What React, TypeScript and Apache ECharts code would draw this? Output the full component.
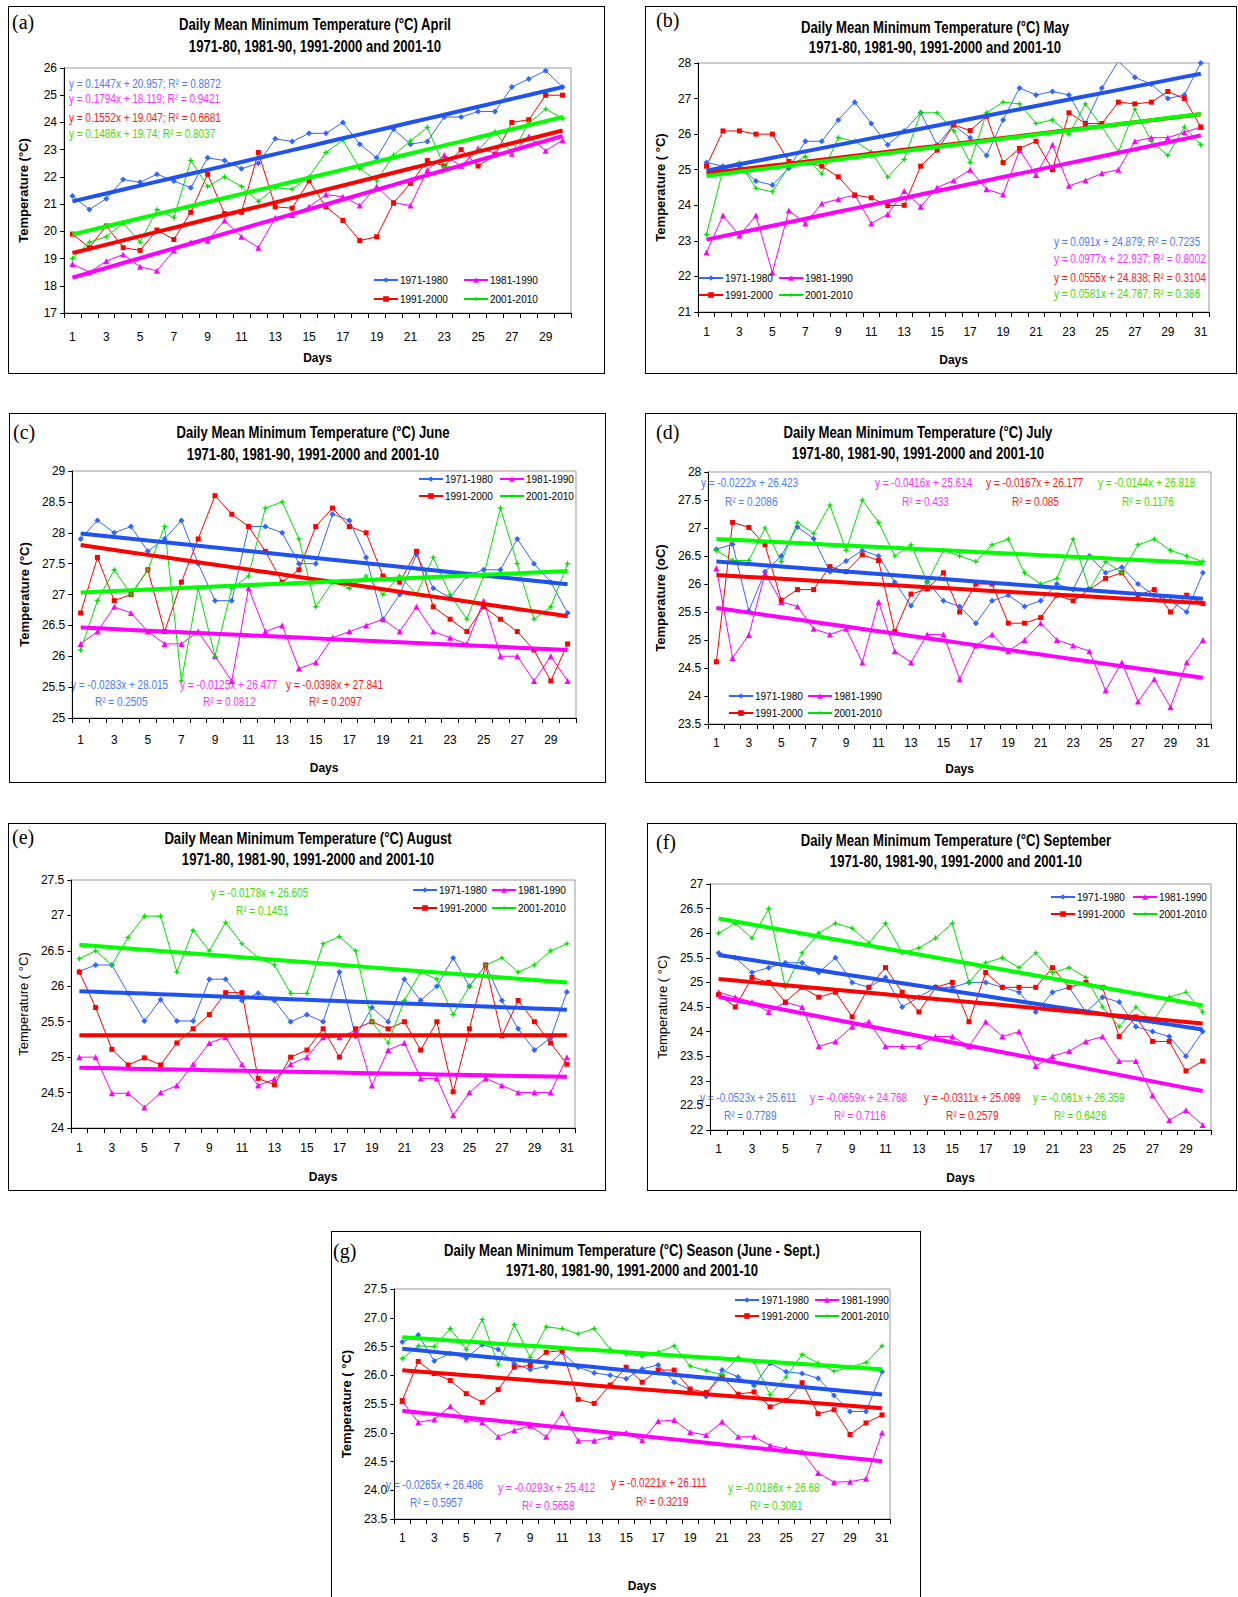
import React, { useEffect, useRef } from 'react';
import * as echarts from 'echarts';

// ---------- DATA ----------
const SERIES_NAMES = ['1971-1980', '1981-1990', '1991-2000', '2001-2010'];
const TITLE_LINE2 = '1971-80, 1981-90, 1991-2000 and 2001-10';

// (a) April
const aprB = [21.3, 20.8, 21.2, 21.9, 21.8, 22.1, 21.85, 21.6, 22.7, 22.6, 22.3, 22.5, 23.4, 23.3, 23.6, 23.6, 24.0, 23.2, 22.7, 23.75, 23.2, 23.3, 24.2, 24.2, 24.4, 24.4, 25.3, 25.6, 25.9, 25.3];
const aprM = [18.8, 18.5, 18.9, 19.15, 18.7, 18.55, 19.3, 19.6, 19.65, 20.4, 19.8, 19.4, 20.5, 20.6, 20.9, 21.35, 21.27, 20.95, 21.65, 21.05, 20.95, 22.25, 22.8, 22.4, 23.05, 22.88, 22.85, 23.48, 22.96, 23.35];
const aprR = [19.9, 19.4, 20.2, 19.4, 19.3, 20.05, 19.7, 20.7, 22.1, 20.65, 20.7, 22.9, 20.9, 20.85, 21.85, 20.9, 20.4, 19.66, 19.8, 21.05, 21.76, 22.6, 22.4, 23.0, 22.4, 22.8, 24.0, 24.1, 25.0, 25.0];
const aprG = [19.0, 19.6, 19.8, 20.3, 19.6, 20.8, 20.5, 22.6, 21.65, 22.0, 21.65, 21.1, 21.6, 21.55, 22.0, 22.9, 23.35, 22.31, 21.86, 22.8, 23.32, 23.82, 22.37, 22.37, 22.96, 23.66, 22.88, 23.97, 24.49, 24.15];
const aprSlope = [0.1447, 0.1794, 0.1552, 0.1486];
const aprIntercept = [20.957, 18.119, 19.047, 19.74];
const aprEq = ['y = 0.1447x + 20.957; R² = 0.8872', 'y = 0.1794x + 18.119; R² = 0.9421', 'y = 0.1552x + 19.047; R² = 0.6681', 'y = 0.1486x + 19.74; R² = 0.8037'];
const aprEqColor = [0, 1, 2, 3];

// (b) May
const mayB = [25.2, 25.1, 25.1, 24.68, 24.57, 25.04, 25.8, 25.8, 26.4, 26.9, 26.3, 25.7, 26.09, 26.6, 25.7, 26.25, 25.9, 25.4, 26.4, 27.3, 27.1, 27.2, 27.1, 26.3, 27.3, 28.05, 27.6, 27.4, 27.0, 27.1, 28.0];
const mayM = [22.67, 23.71, 23.15, 23.71, 22.11, 23.85, 23.49, 24.05, 24.17, 24.29, 23.49, 23.75, 24.4, 23.96, 24.5, 24.7, 25.0, 24.45, 24.3, 25.55, 24.85, 25.7, 24.55, 24.7, 24.9, 25.0, 25.8, 25.9, 25.9, 26.05, 26.2];
const mayR = [25.1, 26.09, 26.09, 26.0, 26.0, 25.23, 25.2, 25.1, 24.8, 24.29, 24.21, 23.99, 24.0, 25.1, 25.55, 26.26, 26.1, 26.5, 25.2, 25.6, 25.8, 25.0, 26.6, 26.3, 26.3, 26.9, 26.85, 26.9, 27.2, 27.0, 26.2];
const mayG = [23.18, 25.0, 25.2, 24.48, 24.38, 25.1, 25.37, 24.88, 25.9, 25.8, 25.5, 24.79, 25.29, 26.6, 26.6, 26.1, 25.2, 26.6, 26.9, 26.85, 26.3, 26.4, 26.0, 26.85, 26.2, 25.5, 26.7, 25.8, 25.4, 26.2, 25.7];
const maySlope = [0.091, 0.0977, 0.0555, 0.0581];
const mayIntercept = [24.879, 22.937, 24.838, 24.767];
const mayEq = ['y = 0.091x + 24.879; R² = 0.7235', 'y = 0.0977x + 22.937; R² = 0.8002', 'y = 0.0555x + 24.838; R² = 0.3104', 'y = 0.0581x + 24.767; R² = 0.386'];
const mayEqColor = [0, 1, 2, 3];

// (c) June
const junB = [27.9, 28.2, 28.0, 28.1, 27.7, 27.9, 28.2, 27.5, 26.9, 26.9, 28.1, 28.1, 28.0, 27.5, 27.5, 28.3, 28.2, 27.6, 26.6, 27.0, 27.65, 27.1, 26.95, 27.3, 27.4, 27.4, 27.9, 27.5, 27.2, 26.7];
const junM = [26.2, 26.4, 26.8, 26.7, 26.4, 26.2, 26.2, 26.4, 26.0, 25.6, 27.1, 26.4, 26.5, 25.8, 25.9, 26.3, 26.4, 26.5, 26.6, 26.4, 26.8, 26.4, 26.3, 26.2, 26.9, 26.0, 26.0, 25.6, 26.0, 25.6];
const junR = [26.7, 27.6, 26.9, 27.0, 27.4, 26.4, 27.2, 27.9, 28.6, 28.3, 28.1, 27.7, 27.2, 27.4, 28.1, 28.4, 28.1, 28.0, 27.3, 27.2, 27.7, 26.8, 26.6, 26.4, 26.8, 26.6, 26.4, 26.1, 25.6, 26.2];
const junG = [26.1, 26.9, 27.4, 27.0, 27.4, 28.1, 25.6, 27.1, 26.0, 27.1, 27.3, 28.4, 28.5, 27.9, 26.8, 27.2, 27.1, 27.3, 27.0, 27.3, 27.0, 27.6, 27.0, 26.6, 27.3, 28.4, 27.5, 26.6, 26.8, 27.5];
const junSlope = [-0.0283, -0.0125, -0.0398, 0.012];
const junIntercept = [28.015, 26.477, 27.841, 27.02];
const junEq = ['y = -0.0283x + 28.015', 'R² = 0.2505', 'y = -0.0125x + 26.477', 'R² = 0.0812', 'y = -0.0398x + 27.841', 'R² = 0.2097'];
const junEqColor = [0, 0, 1, 1, 2, 2];

// (d) July
const julB = [26.62, 26.71, 25.52, 26.22, 26.5, 27.02, 26.81, 26.22, 26.41, 26.6, 26.5, 26.03, 25.61, 26.04, 25.7, 25.6, 25.3, 25.7, 25.8, 25.6, 25.7, 26.0, 25.9, 26.5, 26.2, 26.3, 26.0, 25.8, 25.7, 25.5, 26.2];
const julM = [26.28, 24.68, 25.09, 26.19, 25.68, 25.6, 25.2, 25.1, 25.2, 24.6, 25.68, 24.8, 24.6, 25.1, 25.1, 24.3, 24.9, 25.1, 24.8, 25.0, 25.3, 25.0, 24.9, 24.8, 24.1, 24.6, 23.9, 24.3, 23.8, 24.6, 25.0];
const julR = [24.61, 27.1, 27.01, 26.7, 25.71, 25.9, 25.9, 26.31, 26.22, 26.52, 26.42, 25.15, 25.82, 25.91, 26.2, 25.5, 26.0, 26.0, 25.3, 25.3, 25.4, 25.8, 25.7, 25.9, 26.1, 26.2, 25.8, 25.9, 25.5, 25.8, 25.65];
const julG = [26.6, 26.42, 26.42, 27.0, 26.4, 27.1, 26.9, 27.41, 26.6, 27.5, 27.1, 26.5, 26.7, 26.03, 26.6, 26.5, 26.4, 26.7, 26.8, 26.2, 26.0, 26.1, 26.8, 25.9, 26.4, 26.2, 26.7, 26.8, 26.6, 26.5, 26.4];
const julSlope = [-0.0222, -0.0416, -0.0167, -0.0144];
const julIntercept = [26.423, 25.614, 26.177, 26.818];
const julEq = ['y = -0.0222x + 26.423', 'R² = 0.2086', 'y = -0.0416x + 25.614', 'R² = 0.433', 'y = -0.0167x + 26.177', 'R² = 0.085', 'y = -0.0144x + 26.818', 'R² = 0.1176'];
const julEqColor = [0, 0, 1, 1, 2, 2, 3, 3];

// (e) August
const augB = [26.21, 26.3, 26.3, 25.9, 25.51, 25.81, 25.51, 25.51, 26.1, 26.1, 25.8, 25.9, 25.8, 25.5, 25.6, 25.5, 26.2, 25.29, 25.7, 25.5, 26.1, 25.8, 26.0, 26.4, 26.0, 26.3, 25.8, 25.4, 25.1, 25.27, 25.92];
const augM = [25.0, 25.0, 24.49, 24.49, 24.29, 24.5, 24.6, 24.9, 25.2, 25.28, 24.9, 24.6, 24.69, 24.9, 25.0, 25.28, 25.28, 25.38, 24.6, 25.1, 25.2, 24.7, 24.7, 24.18, 24.5, 24.7, 24.6, 24.5, 24.5, 24.5, 25.0];
const augR = [26.2, 25.7, 25.11, 24.89, 24.99, 24.89, 25.2, 25.4, 25.6, 25.91, 25.91, 24.7, 24.61, 25.0, 25.1, 25.4, 25.0, 25.4, 25.5, 25.4, 25.5, 25.1, 25.5, 24.51, 25.4, 26.3, 25.3, 25.8, 25.5, 25.2, 24.9];
const augG = [26.39, 26.5, 26.3, 26.69, 26.99, 26.99, 26.2, 26.79, 26.5, 26.9, 26.6, 26.4, 26.3, 25.9, 25.9, 26.6, 26.7, 26.5, 25.5, 25.2, 25.8, 26.2, 26.1, 25.6, 26.0, 26.3, 26.4, 26.2, 26.3, 26.5, 26.6];
const augSlope = [-0.0087, -0.0043, 0.0, -0.0178];
const augIntercept = [25.94, 24.855, 25.31, 26.605];
const augEq = ['y = -0.0178x + 26.605', 'R² = 0.1451'];
const augEqColor = [3, 3];

// (f) September
const sepB = [25.6, 25.5, 25.2, 25.3, 25.4, 25.4, 25.2, 25.5, 25.0, 24.9, 25.1, 24.5, 24.7, 24.9, 24.9, 25.0, 25.0, 24.9, 24.8, 24.4, 24.8, 24.9, 24.4, 24.7, 24.6, 24.1, 24.0, 23.9, 23.5, 24.0];
const sepM = [24.8, 24.7, 24.6, 24.4, 24.6, 24.5, 23.7, 23.8, 24.1, 24.2, 23.7, 23.7, 23.7, 23.9, 23.9, 23.7, 24.2, 23.9, 24.0, 23.3, 23.5, 23.6, 23.8, 23.9, 23.4, 23.4, 22.7, 22.2, 22.4, 22.1];
const sepR = [24.75, 24.5, 25.1, 25.0, 24.6, 24.9, 24.7, 24.8, 24.3, 24.9, 25.3, 24.8, 24.4, 24.9, 25.0, 24.2, 25.2, 24.9, 24.9, 24.9, 25.3, 24.9, 25.0, 24.9, 23.9, 24.3, 23.8, 23.8, 23.2, 23.4];
const sepG = [26.0, 26.2, 25.9, 26.5, 24.9, 25.6, 26.0, 26.2, 26.1, 25.8, 26.2, 25.6, 25.7, 25.9, 26.2, 25.0, 25.4, 25.5, 25.3, 25.6, 25.2, 25.3, 25.1, 24.5, 24.1, 24.5, 24.2, 24.7, 24.8, 24.4];
const sepSlope = [-0.0523, -0.0659, -0.0311, -0.061];
const sepIntercept = [25.611, 24.768, 25.099, 26.359];
const sepEq = ['y = -0.0523x + 25.611', 'R² = 0.7789', 'y = -0.0659x + 24.768', 'R² = 0.7116', 'y = -0.0311x + 25.099', 'R² = 0.2579', 'y = -0.061x + 26.359', 'R² = 0.6426'];
const sepEqColor = [0, 0, 1, 1, 2, 2, 3, 3];

// (g) Season (June - Sept.)
const seaB = [26.58, 26.7, 26.25, 26.38, 26.3, 26.53, 26.45, 26.2, 26.1, 26.15, 26.4, 26.14, 26.04, 26.0, 25.94, 26.11, 26.18, 25.88, 25.75, 25.63, 26.09, 25.97, 25.82, 26.21, 26.06, 26.03, 25.95, 25.65, 25.37, 25.37, 26.06];
const seaM = [25.55, 25.18, 25.23, 25.46, 25.23, 25.18, 24.93, 25.04, 25.12, 24.93, 25.34, 24.86, 24.86, 24.93, 25.0, 24.87, 25.2, 25.22, 25.01, 24.96, 25.19, 24.93, 24.93, 24.78, 24.72, 24.67, 24.3, 24.14, 24.15, 24.2, 25.0];
const seaR = [25.56, 26.24, 26.03, 25.91, 25.68, 25.53, 25.75, 26.14, 26.17, 26.4, 26.43, 25.58, 25.51, 25.83, 26.14, 25.88, 26.09, 26.09, 25.76, 25.7, 25.98, 25.67, 25.71, 25.45, 25.56, 25.87, 25.33, 25.4, 24.97, 25.17, 25.31];
const seaG = [26.29, 26.51, 26.5, 26.81, 26.45, 26.97, 26.18, 26.88, 26.31, 26.84, 26.81, 26.72, 26.81, 26.45, 26.37, 26.33, 26.4, 26.51, 26.16, 26.08, 26.01, 26.31, 26.23, 25.66, 25.97, 26.36, 26.21, 26.07, 26.14, 26.22, 26.51];
const seaSlope = [-0.0265, -0.0293, -0.0221, -0.0186];
const seaIntercept = [26.486, 25.412, 26.111, 26.68];
const seaEq = ['y = -0.0265x + 26.486', 'R² = 0.5957', 'y = -0.0293x + 25.412', 'R² = 0.5658', 'y = -0.0221x + 26.111', 'R² = 0.3219', 'y = -0.0186x + 26.68', 'R² = 0.3091'];
const seaEqColor = [0, 0, 1, 1, 2, 2, 3, 3];

// ---------- STYLE ----------
const DATA_COLORS = ['#3366ff', '#ff00ff', '#ff0000', '#00e000'];
const TREND_COLORS = ['#1f52ee', '#ff00ff', '#ff0000', '#00ff00'];
const TEXT_COLORS = ['#4d79ff', '#ff33ff', '#ff1a1a', '#44dd00'];
const SYMBOLS = ['diamond', 'triangle', 'rect', 'path://M5,0L6.2,3.8L10,5L6.2,6.2L5,10L3.8,6.2L0,5L3.8,3.8Z'];
const SYMBOL_SIZES = [6, 6, 5, 7];
const SANS = "'Liberation Sans', Arial, sans-serif";
const SERIF = "'Liberation Serif', 'Times New Roman', serif";
const NARROW_SCALE = 0.82;

type Layout = {
  box: number[]; plot: number[]; titleX: number; titleY: number[]; label: number[];
  xLabelY: number; daysY: number; yNameX: number; eqPos: number[][]; legendRows: number[]; legendX: number[];
  yNameBold: boolean;
};

const PANELS: any[] = [
  {
    label: '(a)', title1: 'Daily Mean Minimum Temperature (°C) April', yName: 'Temperature (°C)',
    data: [aprB, aprM, aprR, aprG], slopes: aprSlope, intercepts: aprIntercept, eqs: aprEq, eqColors: aprEqColor,
    yMin: 17, yMax: 26, yInterval: 1, yDec: -1,
    layout: { box: [8, 6, 605, 374], plot: [64, 68, 571, 313], titleX: 315, titleY: [25, 47], label: [12, 22], xLabelY: 337, daysY: 358, yNameX: 23,
      eqPos: [[69, 84], [69, 99], [69, 118], [69, 134]], legendRows: [282, 301], legendX: [373, 463], yNameBold: true },
  },
  {
    label: '(b)', title1: 'Daily Mean Minimum Temperature (°C) May', yName: 'Temperature ( °C)',
    data: [mayB, mayM, mayR, mayG], slopes: maySlope, intercepts: mayIntercept, eqs: mayEq, eqColors: mayEqColor,
    yMin: 21, yMax: 28, yInterval: 1, yDec: -1,
    layout: { box: [645, 6, 1237, 374], plot: [693, 63, 1209, 312], titleX: 935, titleY: [28, 48], label: [656, 20], xLabelY: 332, daysY: 360, yNameX: 658,
      eqPos: [[1054, 242], [1054, 259], [1054, 278], [1054, 294]], legendRows: [280, 297], legendX: [698, 778], yNameBold: true },
  },
  {
    label: '(c)', title1: 'Daily Mean Minimum Temperature (°C) June', yName: 'Temperature (°C)',
    data: [junB, junM, junR, junG], slopes: junSlope, intercepts: junIntercept, eqs: junEq, eqColors: junEqColor,
    yMin: 25, yMax: 29, yInterval: 0.5, yDec: -1,
    layout: { box: [9, 413, 606, 783], plot: [64, 471, 576, 718], titleX: 313, titleY: [433, 455], label: [13, 432], xLabelY: 740, daysY: 768, yNameX: 23,
      eqPos: [[71, 685], [95, 702], [180, 685], [203, 702], [286, 685], [309, 702]], legendRows: [481, 498], legendX: [418, 499], yNameBold: true },
  },
  {
    label: '(d)', title1: 'Daily Mean Minimum Temperature (°C) July', yName: 'Temperature (oC)',
    data: [julB, julM, julR, julG], slopes: julSlope, intercepts: julIntercept, eqs: julEq, eqColors: julEqColor,
    yMin: 23.5, yMax: 28, yInterval: 0.5, yDec: -1,
    layout: { box: [645, 413, 1237, 783], plot: [698, 472, 1211, 724], titleX: 918, titleY: [433, 454], label: [656, 432], xLabelY: 743, daysY: 769, yNameX: 655,
      eqPos: [[701, 483], [725, 502], [875, 483], [902, 502], [986, 483], [1012, 502], [1098, 483], [1122, 502]], legendRows: [698, 715], legendX: [728, 807], yNameBold: true },
  },
  {
    label: '(e)', title1: 'Daily Mean Minimum Temperature (°C) August', yName: 'Temperature ( °C)',
    data: [augB, augM, augR, augG], slopes: augSlope, intercepts: augIntercept, eqs: augEq, eqColors: augEqColor,
    yMin: 24, yMax: 27.5, yInterval: 0.5, yDec: -1,
    layout: { box: [8, 823, 606, 1191], plot: [56, 880, 575, 1128], titleX: 308, titleY: [839, 860], label: [12, 837], xLabelY: 1148, daysY: 1177, yNameX: 19,
      eqPos: [[211, 893], [236, 911]], legendRows: [892, 910], legendX: [412, 491], yNameBold: false },
  },
  {
    label: '(f)', title1: 'Daily Mean Minimum Temperature (°C) September', yName: 'Temperature ( °C)',
    data: [sepB, sepM, sepR, sepG], slopes: sepSlope, intercepts: sepIntercept, eqs: sepEq, eqColors: sepEqColor,
    yMin: 22, yMax: 27, yInterval: 0.5, yDec: -1,
    layout: { box: [647, 823, 1237, 1191], plot: [696, 884, 1211, 1130], titleX: 956, titleY: [841, 862], label: [656, 842], xLabelY: 1149, daysY: 1178, yNameX: 659,
      eqPos: [[700, 1098], [724, 1116], [810, 1098], [834, 1116], [924, 1098], [946, 1116], [1033, 1098], [1054, 1116]], legendRows: [899, 916], legendX: [1050, 1132], yNameBold: false },
  },
  {
    label: '(g)', title1: 'Daily Mean Minimum Temperature (°C) Season (June - Sept.)', yName: 'Temperature ( °C)',
    data: [seaB, seaM, seaR, seaG], slopes: seaSlope, intercepts: seaIntercept, eqs: seaEq, eqColors: seaEqColor,
    yMin: 23.5, yMax: 27.5, yInterval: 0.5, yDec: 1,
    layout: { box: [331, 1231, 921, 1612], plot: [381, 1289, 890, 1519], titleX: 632, titleY: [1251, 1271], label: [333, 1251], xLabelY: 1538, daysY: 1586, yNameX: 341,
      eqPos: [[386, 1485], [410, 1503], [498, 1488], [522, 1506], [611, 1483], [636, 1502], [728, 1488], [750, 1506]], legendRows: [1302, 1318], legendX: [734, 814], yNameBold: true },
  },
];

function buildOption(p: any) {
  const L: Layout = p.layout;
  const ox = L.box[0] + 1;
  const oy = L.box[1] + 1;
  const [pl, pt, pr, pb] = L.plot;
  const n = p.data[0].length;
  const days = Array.from({ length: n }, (_, i) => String(i + 1));

  const series: any[] = [];
  p.data.forEach((vals: number[], k: number) => {
    series.push({
      type: 'line', name: SERIES_NAMES[k], data: vals,
      symbol: SYMBOLS[k], symbolSize: SYMBOL_SIZES[k], showSymbol: true,
      lineStyle: { width: 1, color: DATA_COLORS[k] }, itemStyle: { color: DATA_COLORS[k] }, z: 2,
    });
  });
  p.slopes.forEach((s: number, k: number) => {
    series.push({
      type: 'line', name: 'Linear (' + SERIES_NAMES[k] + ')',
      data: days.map((_, i) => +(s * (i + 1) + p.intercepts[k]).toFixed(4)),
      symbol: 'none', lineStyle: { width: 4, color: TREND_COLORS[k] }, itemStyle: { color: TREND_COLORS[k] }, z: 3, silent: true,
    });
  });

  const graphic: any[] = [];
  graphic.push({ type: 'text', x: L.label[0] - ox, y: L.label[1] - oy,
    style: { text: p.label, fontSize: 20, fontFamily: SERIF, fill: '#000', verticalAlign: 'middle', textVerticalAlign: 'middle' } });
  [p.title1, TITLE_LINE2].forEach((t: string, i: number) => {
    graphic.push({ type: 'text', x: L.titleX - ox, y: L.titleY[i] - oy, scaleX: NARROW_SCALE,
      style: { text: t, fontSize: 16, fontWeight: 'bold', fontFamily: SANS, fill: '#000', align: 'center', textAlign: 'center', verticalAlign: 'middle', textVerticalAlign: 'middle' } });
  });
  p.eqs.forEach((t: string, i: number) => {
    graphic.push({ type: 'text', x: L.eqPos[i][0] - ox, y: L.eqPos[i][1] - oy, scaleX: 0.8,
      style: { text: t, fontSize: 12.5, fontFamily: SANS, fill: TEXT_COLORS[p.eqColors[i]], verticalAlign: 'middle', textVerticalAlign: 'middle' } });
  });

  const legend = SERIES_NAMES.map((name, k) => ({
    data: [name], left: L.legendX[k % 2] - ox, top: L.legendRows[Math.floor(k / 2)] - oy - 7,
    itemWidth: 24, itemHeight: 7, itemGap: 0, padding: 0, selectedMode: false,
    textStyle: { fontSize: 10, fontFamily: SANS, color: '#000', padding: [0, 0, 0, -3] },
  }));

  return {
    animation: false,
    backgroundColor: '#ffffff',
    grid: { left: pl - ox, top: pt - oy, width: pr - pl, height: pb - pt, show: true, borderColor: '#9a9a9a', borderWidth: 1, backgroundColor: 'transparent' },
    legend,
    xAxis: {
      type: 'category', data: days, boundaryGap: true,
      name: 'Days', nameLocation: 'middle', nameGap: L.daysY - pb - 6,
      nameTextStyle: { fontSize: 12, fontWeight: 'bold', fontFamily: SANS, color: '#000' },
      axisLine: { show: true, lineStyle: { color: '#000', width: 1 } },
      axisTick: { show: true, interval: 0, length: 5, lineStyle: { color: '#000' } },
      axisLabel: { interval: 1, fontSize: 12, fontFamily: SANS, color: '#000', margin: L.xLabelY - pb - 6 },
      splitLine: { show: false },
    },
    yAxis: {
      type: 'value', min: p.yMin, max: p.yMax, interval: p.yInterval,
      name: p.yName, nameLocation: 'middle', nameGap: pl - L.yNameX - 7,
      nameTextStyle: { fontSize: 13, fontWeight: L.yNameBold ? 'bold' : 'normal', fontFamily: SANS, color: '#000' },
      axisLine: { show: true, lineStyle: { color: '#000', width: 1 } },
      axisTick: { show: true, length: 4, lineStyle: { color: '#000' } },
      axisLabel: { fontSize: 12, fontFamily: SANS, color: '#000', margin: 7,
        formatter: (v: number) => (p.yDec > 0 ? v.toFixed(p.yDec) : String(+v.toFixed(2))) },
      splitLine: { show: false },
    },
    graphic,
    series,
  };
}

function Panel({ p }: { p: any }) {
  const ref = useRef<HTMLDivElement>(null);
  useEffect(() => {
    const chart = echarts.init(ref.current as HTMLDivElement, undefined, { renderer: 'svg' });
    chart.setOption(buildOption(p));
    return () => chart.dispose();
  }, [p]);
  const [l, t, r, b] = p.layout.box;
  return (
    <div style={{ position: 'absolute', left: l, top: t, width: r - l, height: b - t, border: '1px solid #000', boxSizing: 'border-box', background: '#fff' }}>
      <div ref={ref} style={{ width: r - l - 2, height: b - t - 2 }} />
    </div>
  );
}

export default function App() {
  return (
    <div style={{ position: 'absolute', left: 0, top: 0, width: 1238, height: 1597, overflow: 'hidden', background: '#fff' }}>
      {PANELS.map((p, i) => (
        <Panel key={i} p={p} />
      ))}
    </div>
  );
}
